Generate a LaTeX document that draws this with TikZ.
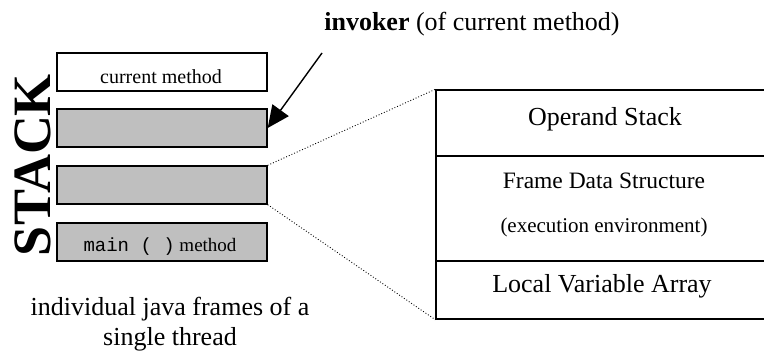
\documentclass[tikz,border=0pt]{standalone}
\usepackage{fontspec}
\setmainfont{Liberation Serif}
\setmonofont{Liberation Mono}
\usetikzlibrary{arrows.meta}
\begin{document}
\begin{tikzpicture}[x=1pt,y=-1pt,
  framebox/.style={draw,line width=1.4pt,minimum width=210pt,minimum height=38pt,inner sep=0pt},
  rowbox/.style={draw,line width=1.4pt,minimum width=340pt,inner sep=0pt},
  lbl/.style={anchor=base,inner sep=0pt},
  link/.style={dotted,line width=0.9pt}]
\useasboundingbox (0,0) rectangle (764,351);
\clip (0,0) rectangle (764,351);

% stack frames
\node[framebox,fill=white] (cur) at (162,72) {};
\node[framebox,fill=black!25] (inv) at (162,128) {};
\node[framebox,fill=black!25] (mid) at (162,185) {};
\node[framebox,fill=black!25] (mainf) at (162,242) {};
\node[lbl,font=\fontsize{20}{20}\selectfont] at (161,83) {current method};
\node[lbl,font=\fontsize{19}{19}\selectfont] at (160,251) {\texttt{main ( )} method};

% vertical STACK label
\node[rotate=90,inner sep=0pt,font=\fontsize{54}{54}\bfseries\selectfont] (stk) at (33,165) {STACK};

% caption
\node[lbl,font=\fontsize{26}{26}\selectfont] (cap1) at (170,315) {individual java frames of a};
\node[lbl,font=\fontsize{26}{26}\selectfont] (cap2) at (170,345) {single thread};

% invoker pointer
\node[lbl,font=\fontsize{26}{26}\selectfont] (invlbl) at (472,30) {\textbf{invoker} (of current method)};
\coordinate (tail) at (322,53);
\draw[line width=1.4pt,-{Triangle[length=22pt,width=20pt]}] (tail) -- (inv.east);

% expanded frame
\node[rowbox,minimum height=66pt] (opnd) at (606,123) {};
\node[rowbox,minimum height=105pt] (fds) at (606,208.5) {};
\node[rowbox,minimum height=58pt] (lva) at (606,290) {};
\node[lbl,font=\fontsize{26}{26}\selectfont] at (605,125) {Operand Stack};
\node[lbl,font=\fontsize{23.5}{23.5}\selectfont] at (604,188) {Frame Data Structure};
\node[lbl,font=\fontsize{21}{21}\selectfont] at (604,232) {(execution environment)};
\node[lbl,font=\fontsize{26}{26}\selectfont] at (602,292) {Local Variable Array};

% zoom lines
\draw[link] (mid.north east) -- (opnd.north west);
\draw[link] (mid.south east) -- (lva.south west);
\end{tikzpicture}
\end{document}
